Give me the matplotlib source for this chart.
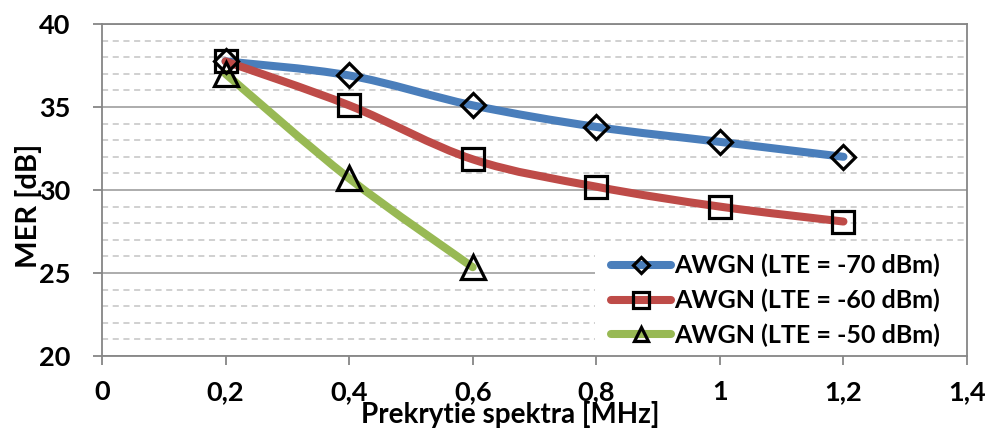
import matplotlib.pyplot as plt
import numpy as np
from matplotlib.path import Path
from matplotlib.patches import PathPatch, Rectangle
from matplotlib.lines import Line2D
from matplotlib.ticker import MultipleLocator, FixedLocator, FixedFormatter

plt.rcParams['font.family'] = ['Lato', 'DejaVu Sans']
plt.rcParams['font.weight'] = 'bold'

# data
x70 = [0.2, 0.4, 0.6, 0.8, 1.0, 1.2]
mer70 = [37.75, 36.9, 35.1, 33.8, 32.9, 32.0]
x60 = [0.2, 0.4, 0.6, 0.8, 1.0, 1.2]
mer60 = [37.75, 35.1, 31.85, 30.2, 29.0, 28.1]
x50 = [0.2, 0.4, 0.6]
mer50 = [37.0, 30.7, 25.35]

labels = ['AWGN (LTE = -70 dBm)', 'AWGN (LTE = -60 dBm)', 'AWGN (LTE = -50 dBm)']
xticks = [0, 0.2, 0.4, 0.6, 0.8, 1.0, 1.2, 1.4]
xtick_labels = ['0', '0,2', '0,4', '0,6', '0,8', '1', '1,2', '1,4']

colors = ['#4A7EBB', '#BE4B48', '#98B954']
markers = ['D', 's', '^']
msizes = [12.5, 16.5, 17]
leg_msizes = [8, 11, 10.5]


def smooth_path(xs, ys):
    # Excel-like smoothed line (cardinal spline as cubic bezier)
    pts = np.column_stack([xs, ys]).astype(float)
    n = len(pts)
    verts = [pts[0]]
    codes = [Path.MOVETO]
    for i in range(n - 1):
        p0 = pts[max(i - 1, 0)]
        p1 = pts[i]
        p2 = pts[i + 1]
        p3 = pts[min(i + 2, n - 1)]
        verts += [p1 + (p2 - p0) / 6, p2 - (p3 - p1) / 6, p2]
        codes += [Path.CURVE4] * 3
    return Path(verts, codes)


fig = plt.figure(figsize=(9.92, 4.41), dpi=100)
ax = fig.add_axes([0.1028, 0.1927, 0.872, 0.7529])

ax.set_xlim(0, 1.4)
ax.set_ylim(20, 40)
ax.yaxis.set_major_locator(MultipleLocator(5))
ax.yaxis.set_minor_locator(MultipleLocator(1))
ax.xaxis.set_major_locator(FixedLocator(xticks))
ax.xaxis.set_major_formatter(FixedFormatter(xtick_labels))

ax.grid(which='major', axis='y', color='#A6A6A6', lw=1.3, ls='-')
ax.grid(which='minor', axis='y', color='#C4C4C4', lw=1.1, ls=(0, (4, 3)))
ax.set_axisbelow(True)
ax.tick_params(axis='y', which='minor', length=0)
ax.tick_params(axis='both', which='major', length=6.5, width=1.3, color='#868686',
               labelsize=19.5)
ax.tick_params(axis='y', pad=16)
ax.tick_params(axis='x', pad=11)
for s in ax.spines.values():
    s.set_color('#868686')
    s.set_linewidth(1.3)

series = [(x70, mer70), (x60, mer60), (x50, mer50)]
handles = []
for (xs, ys), c, m, ms, lms in zip(series, colors, markers, msizes, leg_msizes):
    ax.add_patch(PathPatch(smooth_path(xs, ys), fill=False, edgecolor=c, lw=5.8,
                           capstyle='round', joinstyle='round', zorder=3))
    ax.plot(xs, ys, ls='none', marker=m, ms=ms, mfc='none', mec='black',
            mew=2.3, zorder=4)
    handles.append(Line2D([], [], color=c, lw=5.8, solid_capstyle='round',
                          marker=m, ms=lms, mfc='none', mec='black', mew=2.3))

ax.set_ylabel('MER [dB]', fontsize=21, fontweight='bold')
ax.yaxis.set_label_coords(-0.0855, 0.453)
ax.yaxis.label.set_va('center')
ax.set_xlabel('Prekrytie spektra [MHz]', fontsize=20, fontweight='bold')
ax.xaxis.set_label_coords(0.472, -0.203)
ax.xaxis.label.set_va('baseline')

# white area behind the legend (hides the grid there)
ax.add_patch(Rectangle((0.57, 0), 0.43, 0.33, transform=ax.transAxes,
                       facecolor='white', edgecolor='none', zorder=2))

leg = ax.legend(handles, labels, loc='lower right', bbox_to_anchor=(0.969, 0.027),
                borderaxespad=0, fontsize=18, frameon=False,
                handlelength=2.4, handletextpad=0.15, labelspacing=0.45,
                borderpad=0)

fig.savefig('out.png', dpi=100)
